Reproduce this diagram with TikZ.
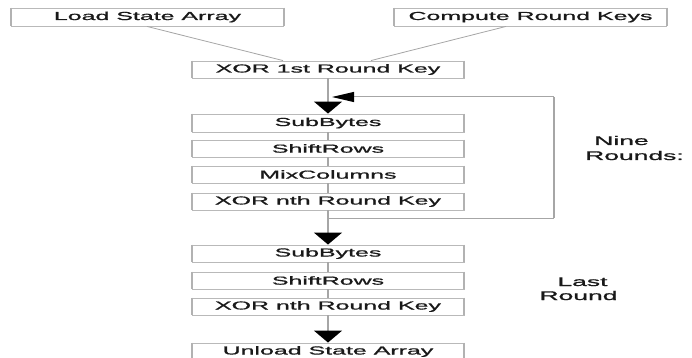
\documentclass[tikz,border=0pt]{standalone}
\usepackage{fontspec}
\setmainfont{Liberation Sans}
\newfontfamily\chartfont{Liberation Sans}[FakeBold=0.8]
\usepackage{graphicx}
\usetikzlibrary{arrows.meta}
% wide lettering used throughout the chart
\newcommand{\wide}[1]{\scalebox{2.15}[1]{#1}}
\newcommand{\widelbl}[1]{\scalebox{2.1}[1]{#1}}

\begin{document}
\begin{tikzpicture}[x=1pt,y=-1pt,
  stage/.style={draw=gray!55, line width=0.9pt, minimum width=272pt,
    minimum height=17pt, inner sep=0pt,
    font=\chartfont\fontsize{11.6}{12}\selectfont, text=black!90},
  sideline/.style={draw=gray!60, line width=2pt},
  link/.style={draw=gray!70, line width=0.8pt},
  vflow/.style={draw=gray!70, line width=1.8pt},
  hflow/.style={draw=gray!70, line width=1pt},
  downhead/.style={-{Triangle[width=28pt,length=12pt,color=black]}},
  lefthead/.style={-{Triangle[width=10pt,length=22pt,color=black]}},
  lbl/.style={inner sep=0pt, font=\chartfont\fontsize{12.6}{13}\selectfont, text=black!90}]
\useasboundingbox (0,0) rectangle (692,358);

% start-up boxes
\node[stage, minimum height=18pt] (lsa) at (147.5,17) {\wide{Load State Array}};
\node[stage, minimum height=18pt] (crk) at (530.5,17) {\wide{Compute Round Keys}};
\node[stage] (xor1) at (328,69.5) {\wide{XOR 1st Round Key}};

% nine rounds
\node[stage, minimum height=18pt] (sb1) at (328,123) {\wide{SubBytes}};
\node[stage] (sr1) at (328,148.5) {\wide{ShiftRows}};
\node[stage] (mc1) at (328,174.5) {\wide{MixColumns}};
\node[stage] (xn1) at (328,201.5) {\wide{XOR nth Round Key}};

% last round
\node[stage] (sb2) at (328,253.5) {\wide{SubBytes}};
\node[stage] (sr2) at (328,280.5) {\wide{ShiftRows}};
\node[stage] (xn2) at (328,306.5) {\wide{XOR nth Round Key}};

\node[stage] (ul) at (328,351.5) {\wide{Unload State Array}};

% heavier side edges of the boxes
\foreach \n in {lsa,crk,xor1,sb1,sr1,mc1,xn1,sb2,sr2,xn2,ul}
  \draw[sideline] (\n.north west) -- (\n.south west) (\n.north east) -- (\n.south east);

% inputs to the first key addition
\draw[link] ([xshift=-0.5pt]lsa.south) -- ([xshift=-45pt]xor1.north);
\draw[link] ([xshift=-24.5pt]crk.south) -- ([xshift=43pt]xor1.north);

% main flow
\draw[vflow, downhead] (xor1) -- (sb1);
\draw[vflow] (sb1) -- (sr1);
\draw[vflow] (sr1) -- (mc1);
\draw[vflow] (mc1) -- (xn1);
\draw[vflow, downhead] (xn1) -- (sb2);
\draw[vflow] (sb2) -- (sr2);
\draw[vflow] (sr2) -- (xn2);
\draw[vflow, downhead] (xn2) -- (ul);

% loop back for the repeated rounds
\coordinate (loopbot) at (554,218);
\coordinate (looptop) at (554,97);
\draw[hflow] (xn1.south |- loopbot) -- (loopbot);
\draw[vflow] (loopbot) -- (looptop);
\draw[hflow, lefthead] (looptop) -- ([xshift=4pt]xor1.south |- looptop);

% side labels
\node[lbl, anchor=base] (nine) at (621.5,145) {\widelbl{Nine}};
\node[lbl, anchor=base west] (rounds) at (585,160) {\widelbl{Rounds:}};
\node[lbl, anchor=base] (last) at (582.5,286) {\widelbl{Last}};
\node[lbl, anchor=base] (round) at (578.5,300) {\widelbl{Round}};
\end{tikzpicture}
\end{document}
